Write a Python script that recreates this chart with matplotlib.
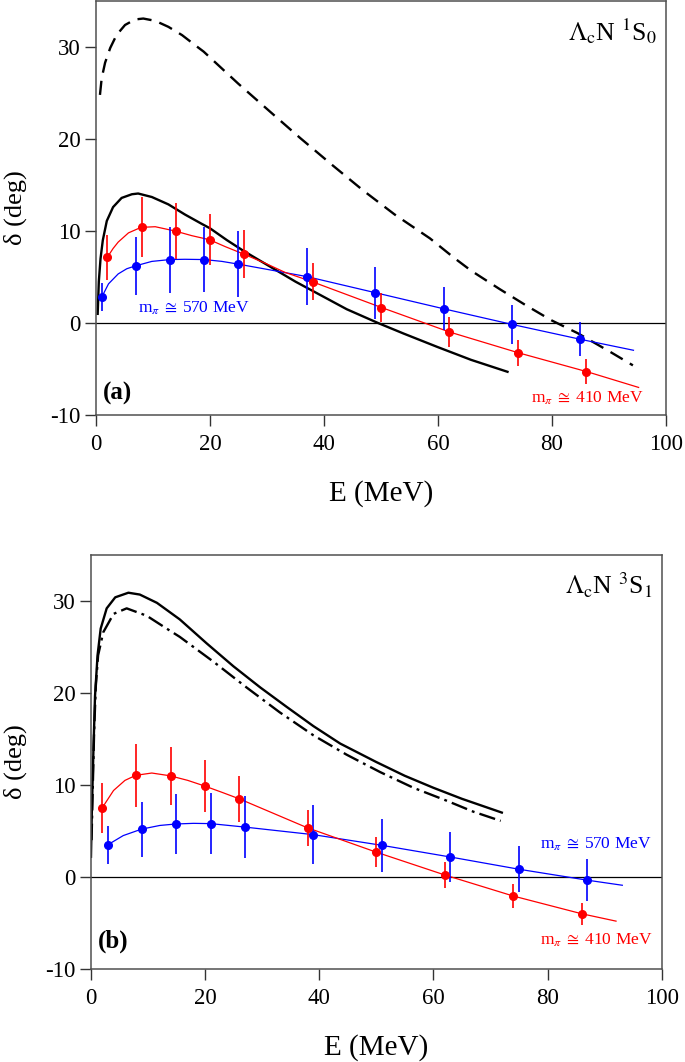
import matplotlib
matplotlib.use("Agg")
import matplotlib.pyplot as plt

plt.rcParams['font.family'] = ['Liberation Serif', 'DejaVu Serif']
plt.rcParams['mathtext.fontset'] = 'stix'

# ---------------- data: panel (a) 1S0 ----------------
a_red_E = [2, 8, 14, 20, 26, 38, 50, 62, 74, 86]
a_red_d = [7.15, 10.4, 10.0, 9.06, 7.5, 4.5, 1.66, -0.97, -3.25, -5.3]
a_red_err = [2.45, 3.25, 3.07, 2.8, 2.56, 2.0, 1.6, 1.66, 1.44, 1.35]
a_blue_E = [1, 7, 13, 19, 25, 37, 49, 61, 73, 85]
a_blue_d = [2.8, 6.2, 6.86, 6.9, 6.43, 5.05, 3.3, 1.55, -0.15, -1.77]
a_blue_err = [1.5, 3.2, 3.6, 3.5, 3.55, 3.1, 2.83, 2.36, 2.1, 1.86]

a_red_fit_E = [2, 3, 3.9, 5.7, 7.9, 10.4, 13.9, 16.8, 19.9, 22.7, 25.9, 29.7, 33.2, 37.9, 49.9, 62, 74.2, 86.2, 95.2]
a_red_fit_d = [7.15, 8.1, 8.8, 9.8, 10.4, 10.47, 10.0, 9.5, 9.06, 8.3, 7.5, 6.5, 5.5, 4.5, 1.73, -0.97, -3.25, -5.3, -7.0]
a_blue_fit_E = [1, 2.2, 3.9, 5.4, 6.85, 9.8, 13, 15.6, 19, 22.1, 25, 37, 49, 61, 73, 85, 94.3]
a_blue_fit_d = [2.8, 4.26, 5.34, 5.9, 6.2, 6.7, 6.9, 6.93, 6.9, 6.7, 6.4, 5.05, 3.3, 1.55, -0.15, -1.77, -2.96]

a_solid_E = [0.3, 0.5, 0.8, 1.2, 1.9, 3.0, 4.5, 6.3, 7.4, 9.8, 12.7, 15.6, 18.5, 20.0, 23.0, 26.0, 29.0, 32.0,
             35.0, 38.0, 44.0, 49.5, 54.0, 59.9, 65.8, 72.2]
a_solid_d = [1.0, 4.5, 7.0, 9.0, 11.1, 12.6, 13.6, 14.0, 14.08, 13.7, 12.9, 11.8, 10.8, 10.3, 9.0, 7.8, 6.7, 5.6,
             4.5, 3.5, 1.5, 0.0, -1.15, -2.6, -4.0, -5.3]
a_dash_E = [0.7, 1.0, 1.6, 2.5, 3.6, 5.1, 6.85, 8.3, 10.4, 12.7, 15.1, 17.4, 18.9, 25.0, 30.5, 35.85, 41.6,
            46.9, 52.4, 58.6, 62.8, 65.8, 70.8, 75.5, 79.9, 84.5, 90.4, 94.2]
a_dash_d = [24.8, 26.6, 28.3, 29.9, 31.3, 32.4, 33.0, 33.1, 32.85, 32.2, 31.3, 30.2, 29.5, 26.0, 23.0, 20.1, 17.1,
            14.4, 11.8, 9.2, 7.1, 5.7, 3.7, 1.9, 0.3, -1.1, -3.2, -4.6]

# ---------------- data: panel (b) 3S1 ----------------
b_red_E = [2, 8, 14, 20, 26, 38, 50, 62, 74, 86]
b_red_d = [7.5, 11.05, 10.98, 9.9, 8.5, 5.36, 2.7, 0.2, -2.07, -4.0]
b_red_err = [2.7, 3.45, 3.2, 2.8, 2.5, 1.95, 1.6, 1.4, 1.27, 1.2]
b_blue_E = [3, 9, 15, 21, 27, 39, 51, 63, 75, 87]
b_blue_d = [3.5, 5.2, 5.76, 5.8, 5.43, 4.6, 3.44, 2.17, 0.83, -0.36]
b_blue_err = [2.05, 3.0, 3.3, 3.3, 3.35, 3.2, 2.9, 2.75, 2.5, 2.3]

b_red_fit_E = [2, 4, 6, 7.9, 10.7, 13.9, 17, 19.9, 23, 26, 37.9, 50, 62.1, 74, 86, 92]
b_red_fit_d = [7.5, 9.4, 10.5, 11.05, 11.3, 11.0, 10.5, 9.9, 9.2, 8.5, 5.36, 2.7, 0.2, -2.07, -4.0, -4.8]
b_blue_fit_E = [3, 5.7, 8.9, 12.1, 14.9, 18, 21, 26.9, 39, 51, 63, 75.1, 87.1, 93.1]
b_blue_fit_d = [3.5, 4.5, 5.2, 5.6, 5.76, 5.83, 5.8, 5.43, 4.6, 3.44, 2.17, 0.83, -0.36, -0.9]

b_solid_E = [0.05, 0.2, 0.5, 0.76, 1.2, 1.75, 2.8, 4.3, 6.6, 8.6, 11.6, 15.6, 20.3, 25, 29.7, 34.3, 39,
             43.7, 50, 55, 60, 65, 72]
b_solid_d = [2.2, 7.1, 14.3, 19.7, 24.1, 27.0, 29.2, 30.4, 30.9, 30.7, 29.8, 28.0, 25.4, 22.9, 20.6, 18.5, 16.4,
             14.5, 12.5, 11.0, 9.7, 8.5, 7.0]
b_dashdot_E = [0.15, 0.3, 0.6, 0.9, 1.3, 2.2, 4.0, 6.3, 9.8, 13.3, 15.6, 21.5, 27.3, 33.1, 39, 44.8, 50.7,
               56.5, 62.3, 67, 71.8]
b_dashdot_d = [4.0, 8.0, 15.8, 20.8, 24.1, 26.6, 28.6, 29.2, 28.4, 27.0, 26.1, 23.4, 20.6, 17.9, 15.4, 13.3,
               11.4, 9.7, 8.3, 7.1, 6.1]

x_ticks = [0, 20, 40, 60, 80, 100]
y_ticks = [-10, 0, 10, 20, 30]

RED = '#ff0000'
BLUE = '#0000ff'

fig = plt.figure(figsize=(6.85, 10.62), dpi=100)
ax_a = fig.add_axes([0.1401, 0.6092, 0.8321, 0.3898])
ax_b = fig.add_axes([0.1324, 0.0876, 0.8336, 0.3898])


def style(ax, ylab_x):
    ax.set_xlim(0, 100)
    ax.set_ylim(-10, 35)
    ax.set_xticks(x_ticks)
    ax.set_yticks(y_ticks)
    ax.set_yticklabels([str(v) for v in y_ticks])
    ax.tick_params(direction='out', length=8, width=1.0, labelsize=16.5, pad=3, color='#333333')
    ax.tick_params(axis='x', pad=6)
    for s in ax.spines.values():
        s.set_color('#505050')
        s.set_linewidth(1.1)
    ax.axhline(0, color='black', lw=0.9, zorder=1)
    ax.set_xlabel('E (MeV)', fontsize=21, labelpad=18)
    ax.set_ylabel('δ (deg)', fontsize=19)
    ax.yaxis.set_label_coords(ylab_x, 0.5)


def data(ax, rE, rd, rerr, bE, bd, berr, rfE, rfd, bfE, bfd):
    ax.plot(bfE, bfd, color=BLUE, lw=0.9, zorder=3)
    ax.plot(rfE, rfd, color=RED, lw=0.9, zorder=3)
    ax.errorbar(bE, bd, yerr=berr, fmt='o', color=BLUE, ms=5.5, elinewidth=1.2, capsize=0, zorder=4)
    ax.errorbar(rE, rd, yerr=rerr, fmt='o', color=RED, ms=5.5, elinewidth=1.2, capsize=0, zorder=5)


LBL570 = r'm$_{\pi}\;\cong\;$570 MeV'
LBL410 = r'm$_{\pi}\;\cong\;$410 MeV'

# ---- panel (a)
style(ax_a, (27 - 96) / 570)
ax_a.plot(a_dash_E, a_dash_d, color='black', lw=1.7, dashes=(6, 3.5), zorder=2)
ax_a.plot(a_solid_E, a_solid_d, color='black', lw=1.7, zorder=2)
data(ax_a, a_red_E, a_red_d, a_red_err, a_blue_E, a_blue_d, a_blue_err,
     a_red_fit_E, a_red_fit_d, a_blue_fit_E, a_blue_fit_d)
ax_a.text(0.984, 0.906, r'$\Lambda_{\mathrm{c}}$N $^{1}$S$_{0}$', transform=ax_a.transAxes,
          ha='right', va='baseline', fontsize=18.5)
ax_a.text(0.012, 0.053, '(a)', transform=ax_a.transAxes, ha='left', va='center',
          fontsize=18, fontweight='bold')
ax_a.text(7.4, 1.6, LBL570, color=BLUE, fontsize=12.5, ha='left', va='center')
ax_a.text(76.3, -8.2, LBL410, color=RED, fontsize=12.5, ha='left', va='center')

# ---- panel (b)
style(ax_b, (27 - 90.7) / 571)
ax_b.plot(b_dashdot_E, b_dashdot_d, color='black', lw=1.7, dashes=(7, 2.2, 1.2, 2.2), zorder=2)
ax_b.plot(b_solid_E, b_solid_d, color='black', lw=1.7, zorder=2)
data(ax_b, b_red_E, b_red_d, b_red_err, b_blue_E, b_blue_d, b_blue_err,
     b_red_fit_E, b_red_fit_d, b_blue_fit_E, b_blue_fit_d)
ax_b.text(0.983, 0.906, r'$\Lambda_{\mathrm{c}}$N $^{3}$S$_{1}$', transform=ax_b.transAxes,
          ha='right', va='baseline', fontsize=18.5)
ax_b.text(0.012, 0.068, '(b)', transform=ax_b.transAxes, ha='left', va='center',
          fontsize=18, fontweight='bold')
ax_b.text(78.7, 3.55, LBL570, color=BLUE, fontsize=12.5, ha='left', va='center')
ax_b.text(78.7, -6.9, LBL410, color=RED, fontsize=12.5, ha='left', va='center')

fig.savefig('out.png', dpi=100)
